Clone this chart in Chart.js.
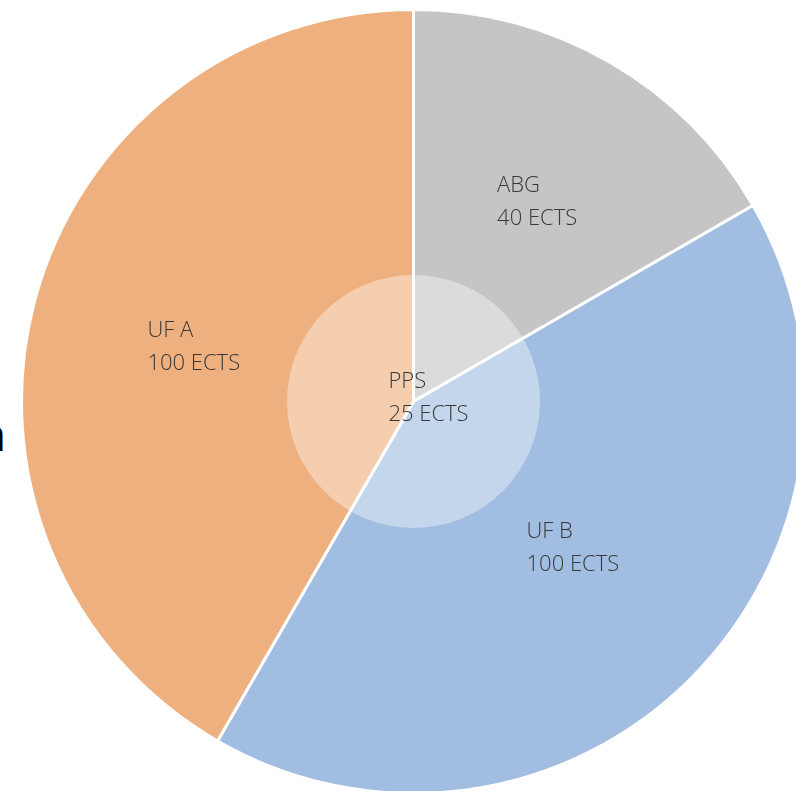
<!DOCTYPE html>
<html>
<head>
<meta charset="utf-8">
<script src="https://cdn.jsdelivr.net/npm/chart.js@4.4.1/dist/chart.umd.min.js"></script>
<style>
  html, body { margin: 0; padding: 0; background: #fff; overflow: hidden; width: 796px; height: 791px; }
  #wrap { position: absolute; left: 20px; top: 8px; width: 787px; height: 787px; }
  #cut { position: absolute; left: -22px; top: 402px; font: 400 46px "Open Sans", sans-serif; color: #000; }
</style>
</head>
<body>
<div id="cut">n</div>
<div id="wrap"><canvas id="pieChart"></canvas></div>
<script>
// datos del gráfico
const labels = ['ABG', 'UF B', 'UF A'];
const ects = [40, 100, 100];
const colors = ['#c5c5c5', '#a1bde1', '#eeb07f'];
const centerLabel = 'PPS';
const centerEcts = 25;

// pequeños ajustes de posición de cada etiqueta (px)
const nudge = [[11, -4], [0, -13], [-2, 4]];

// círculo central + etiquetas de texto
const labelPlugin = {
  id: 'labelPlugin',
  afterDatasetsDraw(chart) {
    const ctx = chart.ctx;
    const arcs = chart.getDatasetMeta(0).data;
    const cx = arcs[0].x, cy = arcs[0].y, R = arcs[0].outerRadius;
    const total = ects.reduce((a, b) => a + b, 0);

    // el área del círculo es proporcional a sus ECTS
    const r = R * Math.sqrt(centerEcts / total);
    ctx.save();
    ctx.beginPath();
    ctx.arc(cx, cy, r, 0, Math.PI * 2);
    ctx.fillStyle = 'rgba(255,255,255,0.38)';
    ctx.fill();

    ctx.font = '300 22px "Open Sans", sans-serif';
    ctx.fillStyle = '#383838';
    ctx.textBaseline = 'middle';
    ctx.textAlign = 'left';
    const lineH = 33;

    function block(lines, bx, by) {
      const w = Math.max(...lines.map(l => ctx.measureText(l).width));
      const x0 = bx - w / 2;
      lines.forEach((l, i) => {
        ctx.fillText(l, x0, by + (i - (lines.length - 1) / 2) * lineH);
      });
    }

    arcs.forEach((arc, i) => {
      const mid = (arc.startAngle + arc.endAngle) / 2;
      const d = R * 0.575;
      block([labels[i], ects[i] + ' ECTS'],
        cx + Math.cos(mid) * d + nudge[i][0], cy + Math.sin(mid) * d + nudge[i][1]);
    });
    block([centerLabel, centerEcts + ' ECTS'], cx + 15, cy - 3);
    ctx.restore();
  }
};

new Chart(document.getElementById('pieChart'), {
  type: 'pie',
  data: {
    labels: labels,
    datasets: [{
      data: ects,
      backgroundColor: colors,
      borderColor: '#ffffff',
      borderWidth: 3
    }]
  },
  options: {
    responsive: true,
    maintainAspectRatio: false,
    animation: false,
    layout: { padding: 0 },
    plugins: {
      legend: { display: false },
      tooltip: { enabled: false }
    }
  },
  plugins: [labelPlugin]
});
</script>
</body>
</html>
